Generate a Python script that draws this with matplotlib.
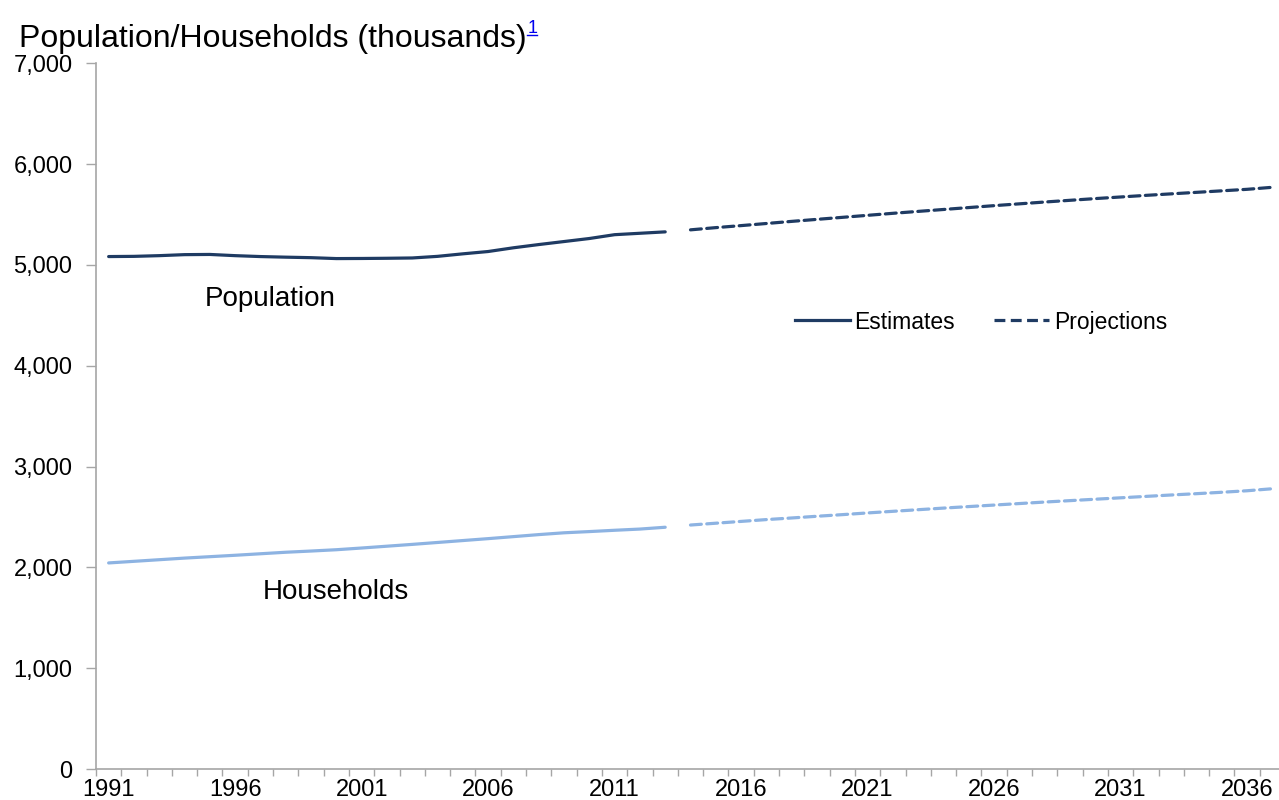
import matplotlib
matplotlib.use("Agg")
import matplotlib.pyplot as plt
from matplotlib.lines import Line2D
from matplotlib.ticker import FixedLocator, FuncFormatter

plt.rcParams["font.family"] = ["Liberation Sans", "DejaVu Sans"]

# Years: mid-year estimates and projections
est_years = list(range(1991, 2014))
proj_years = list(range(2014, 2038))

# Population (thousands)
pop_est = [5083, 5085, 5092, 5102, 5104, 5092, 5083, 5077, 5072, 5063, 5064,
           5066, 5069, 5085, 5110, 5133, 5170, 5202, 5232, 5262, 5300, 5314, 5328]
pop_proj = [5348, 5370, 5390, 5411, 5432, 5452, 5472, 5492, 5512, 5531, 5550,
            5569, 5588, 5606, 5624, 5641, 5658, 5674, 5690, 5705, 5720, 5735,
            5750, 5770]

# Households (thousands)
hh_est = [2044, 2060, 2076, 2092, 2106, 2120, 2135, 2150, 2162, 2175, 2192,
          2210, 2228, 2247, 2266, 2285, 2305, 2325, 2343, 2355, 2368, 2380, 2398]
hh_proj = [2420, 2438, 2456, 2474, 2490, 2507, 2523, 2540, 2556, 2572, 2588,
           2603, 2618, 2633, 2648, 2662, 2676, 2690, 2704, 2718, 2731, 2745,
           2760, 2780]

year_labels = [1991, 1996, 2001, 2006, 2011, 2016, 2021, 2026, 2031, 2036]
y_ticks = [0, 1000, 2000, 3000, 4000, 5000, 6000, 7000]

NAVY = "#1F3B63"
LIGHT = "#8DB3E2"
AXIS_GREY = "#A6A6A6"

W, H = 1279, 800
fig = plt.figure(figsize=(W / 100, H / 100), dpi=100)
ax = fig.add_axes([96 / W, 1 - 769 / H, (1285 - 96) / W, (769 - 63.3) / H])

lw = 2.3
dash = (3.4, 1.7)
ax.plot(est_years, pop_est, color=NAVY, lw=lw, solid_capstyle="round")
ax.plot(proj_years, pop_proj, color=NAVY, lw=lw, ls=(0, dash), dash_capstyle="round")
ax.plot(est_years, hh_est, color=LIGHT, lw=lw, solid_capstyle="round")
ax.plot(proj_years, hh_proj, color=LIGHT, lw=lw, ls=(0, dash), dash_capstyle="round")

ax.set_xlim(est_years[0] - 0.5, proj_years[-1] + 0.5)
ax.set_ylim(0, 7000)

# Category-style x axis: tick marks between years, labels every five years
ax.xaxis.set_major_locator(FixedLocator(year_labels))
ax.xaxis.set_minor_locator(FixedLocator([y - 0.5 for y in est_years + proj_years] + [proj_years[-1] + 0.5]))
ax.tick_params(axis="x", which="major", length=0, pad=7, labelsize=17)
ax.tick_params(axis="x", which="minor", length=5, width=1, color=AXIS_GREY, direction="out")

ax.yaxis.set_major_locator(FixedLocator(y_ticks))
ax.yaxis.set_major_formatter(FuncFormatter(lambda v, p: f"{int(v):,}"))
ax.tick_params(axis="y", length=7, width=1, color=AXIS_GREY, direction="out", pad=10, labelsize=17)

for side in ("top", "right"):
    ax.spines[side].set_visible(False)
for side in ("left", "bottom"):
    ax.spines[side].set_color(AXIS_GREY)
    ax.spines[side].set_linewidth(1.2)

# Series labels
ax.text(1997.4, 4595, "Population", fontsize=20, ha="center", va="baseline")
ax.text(2000.0, 1690, "Households", fontsize=20, ha="center", va="baseline")

# Legend
handles = [Line2D([], [], color=NAVY, lw=lw),
           Line2D([], [], color=NAVY, lw=lw, ls=(0, dash))]
fig.legend(handles, ["Estimates", "Projections"], ncol=2, frameon=False,
           loc="center left", bbox_to_anchor=(795 / W, 1 - 322 / H),
           fontsize=16.5, handlelength=2.4, handletextpad=0.2,
           columnspacing=1.7, borderpad=0, borderaxespad=0)

# Title with footnote marker
fig.text(19 / W, 1 - 47 / H, "Population/Households (thousands)", fontsize=23,
         ha="left", va="baseline")
fig.text(528 / W, 1 - 33 / H, "1", fontsize=13, color="#0000EE",
         ha="left", va="baseline")
fig.add_artist(Line2D([527 / W, 537 / W], [1 - 35 / H, 1 - 35 / H],
                      color="#0000EE", lw=1.0, transform=fig.transFigure))

fig.savefig("out.png", dpi=100)
